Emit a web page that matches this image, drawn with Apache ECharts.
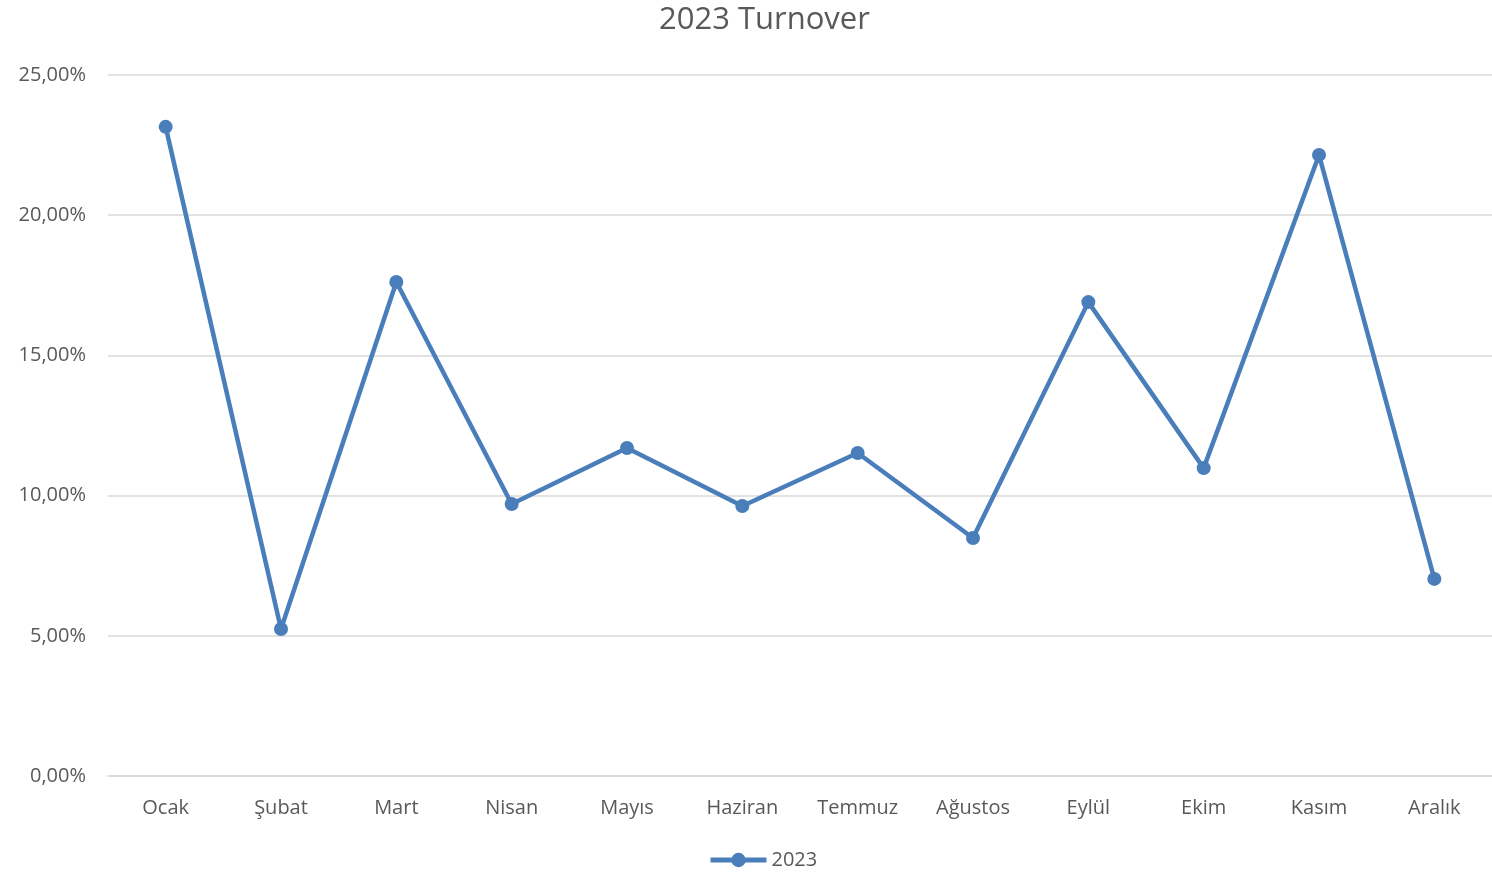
<!DOCTYPE html>
<html>
<head>
<meta charset="utf-8">
<script src="https://cdn.jsdelivr.net/npm/echarts@6/dist/echarts.min.js"></script>
<style>html,body{margin:0;padding:0;background:#fff}#c{width:1492px;height:875px}</style>
</head>
<body>
<div id="c"></div>
<script>
const months = ['Ocak','Şubat','Mart','Nisan','Mayıs','Haziran','Temmuz','Ağustos','Eylül','Ekim','Kasım','Aralık'];
const turnover2023 = [23.15, 5.24, 17.62, 9.70, 11.70, 9.63, 11.52, 8.49, 16.90, 10.98, 22.15, 7.03];
const seriesName = '2023';
const titleText = '2023 Turnover';

const chart = echarts.init(document.getElementById('c'));
const fmt = v => v.toFixed(2).replace('.', ',') + '%';
chart.setOption({
  animation: false,
  textStyle: {fontFamily: 'Open Sans', color: '#595959'},
  title: {text: titleText, left: 654, top: 0, textStyle: {fontFamily: 'Open Sans', fontSize: 31, fontWeight: 'normal', color: '#595959'}},
  legend: {bottom: 0, left: 703, itemWidth: 56, itemHeight: 18, itemGap: 2,
    lineStyle: {width: 5, color: '#4a7ebb'},
    textStyle: {fontSize: 20, color: '#595959', fontFamily: 'Open Sans'},
    data: [seriesName]},
  grid: {left: 108, right: 0, top: 75, bottom: 99, containLabel: false},
  xAxis: {type: 'category', data: months, boundaryGap: true,
    axisLine: {lineStyle: {color: '#d9d9d9', width: 1.5}},
    axisTick: {show: false},
    axisLabel: {fontSize: 20, color: '#595959', margin: 22, fontFamily: 'Open Sans'}},
  yAxis: {type: 'value', min: 0, max: 25, interval: 5,
    axisLine: {show: false}, axisTick: {show: false},
    splitLine: {lineStyle: {color: '#d9d9d9', width: 1.5}},
    axisLabel: {fontSize: 20, color: '#595959', margin: 22, formatter: fmt, fontFamily: 'Open Sans'}},
  series: [{name: seriesName, type: 'line', data: turnover2023,
    symbol: 'circle', symbolSize: 14,
    lineStyle: {color: '#4a7ebb', width: 4.5},
    itemStyle: {color: '#4a7ebb'}}]
});
</script>
</body>
</html>
